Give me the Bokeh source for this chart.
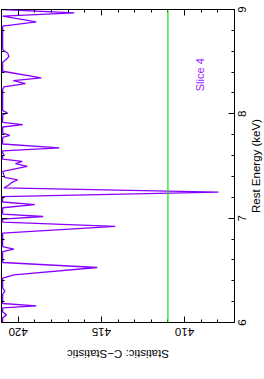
from bokeh.plotting import figure
from bokeh.models import Range1d, LinearAxis, FixedTicker, Label, Span, CustomJSTickFormatter
from bokeh.embed import file_html
from bokeh.resources import INLINE

# Data (energy in keV, C-statistic)
energy = [6.000, 6.045, 6.073, 6.100, 6.140, 6.159, 6.182, 6.270, 6.300, 6.330,
          6.425, 6.457, 6.527, 6.575, 6.680, 6.703, 6.728, 6.857, 6.922, 6.962,
          6.990, 7.016, 7.039, 7.100, 7.129, 7.155, 7.207, 7.249, 7.290, 7.315,
          7.340, 7.368, 7.392, 7.410, 7.448, 7.496, 7.522, 7.544, 7.565, 7.595,
          7.608, 7.625, 7.645, 7.673, 7.711, 7.775, 7.794, 7.815, 7.874, 7.896,
          7.918, 7.990, 8.009, 8.030, 8.235, 8.258, 8.290, 8.319, 8.345, 8.408,
          8.495, 8.520, 8.549, 8.580, 8.605, 8.620, 8.840, 8.882, 8.936, 8.968,
          9.000]
cstat = [420.93, 420.93, 420.70, 420.93, 420.93, 418.91, 420.93, 420.93, 420.80, 420.93,
         420.93, 420.25, 415.25, 420.93, 420.93, 420.26, 420.93, 420.93, 414.16, 420.93,
         420.93, 418.49, 420.93, 420.93, 419.00, 420.93, 420.93, 407.96, 420.85, 420.58,
         420.40, 420.02, 420.80, 420.85, 420.93, 419.45, 420.16, 419.75, 420.93, 420.93,
         420.85, 420.93, 420.93, 417.52, 420.93, 420.93, 420.50, 420.93, 420.93, 419.72,
         420.93, 420.93, 420.65, 420.93, 420.93, 420.86, 419.56, 420.29, 418.61, 420.93,
         420.93, 420.72, 420.56, 420.62, 420.85, 420.93, 420.93, 418.91, 420.93, 416.62,
         420.93]
threshold = 411.0
stat_ticks = [410, 415, 420]
stat_minor = list(range(407, 422))
energy_ticks = [6, 7, 8, 9]
energy_minor = [round(6 + 0.2 * i, 1) for i in range(16)]
slice_label = "Slice 4"
slice_pos = (8.375, 409.06)
x_title = "Rest Energy (keV)"
y_title = "Statistic: C\u2212Statistic"

FONT = "Liberation Sans"
PURPLE = "#8a00ff"
GREEN = "#14e014"

# The chart is built in landscape orientation (canvas 379 x 265) and turned
# 90 degrees counter-clockwise; Bokeh measures the turned box, so the CSS box
# is given as 265 x 379.
p = figure(width=265, height=379, x_range=Range1d(6, 9), y_range=Range1d(407, 421),
           output_backend="svg", toolbar_location=None,
           min_border_left=56, min_border_right=10, min_border_top=2, min_border_bottom=30,
           styles={"position": "absolute", "left": "0px", "top": "0px",
                   "transform-origin": "0 0",
                   "transform": "translate(-1px, 379px) rotate(-90deg)"})
p.grid.visible = False
p.outline_line_color = "black"
p.outline_line_width = 1
p.background_fill_color = "white"
p.border_fill_color = "white"

def style(ax, ticks, minor, show):
    ax.ticker = FixedTicker(ticks=ticks, minor_ticks=minor)
    ax.major_tick_in = 6
    ax.major_tick_out = 0
    ax.minor_tick_in = 3
    ax.minor_tick_out = 0
    ax.major_tick_line_color = "black"
    ax.minor_tick_line_color = "black"
    ax.axis_line_color = None
    if not show:
        ax.formatter = CustomJSTickFormatter(code="return ''")
        ax.major_label_text_font_size = "0px"
        ax.major_label_standoff = 0
    else:
        ax.major_label_text_font = FONT
        ax.major_label_text_font_size = "11.5px"
        ax.major_label_text_color = "black"
        ax.axis_label_text_font = FONT
        ax.axis_label_text_font_size = "11.5px"
        ax.axis_label_text_font_style = "normal"
        ax.axis_label_text_color = "black"

xa = p.xaxis[0]
style(xa, energy_ticks, energy_minor, True)
xa.axis_label = x_title
xa.major_label_standoff = 3
xa.axis_label_standoff = 1

ya = p.yaxis[0]
style(ya, stat_ticks, stat_minor, True)
ya.axis_label = y_title
ya.major_label_orientation = "parallel"
ya.major_label_standoff = 5
ya.axis_label_standoff = 9

top = LinearAxis()
style(top, energy_ticks, energy_minor, False)
p.add_layout(top, "above")
right = LinearAxis()
style(right, stat_ticks, stat_minor, False)
p.add_layout(right, "right")

p.line(energy, cstat, line_color=PURPLE, line_width=1.3)
p.add_layout(Span(location=threshold, dimension="width", line_color=GREEN, line_width=1.2))
p.add_layout(Label(x=slice_pos[0], y=slice_pos[1], text=slice_label,
                   text_align="center", text_baseline="middle", text_color="#9a1aff",
                   text_font=FONT, text_font_size="11px"))

open("out.html", "w").write(file_html(p, INLINE))
